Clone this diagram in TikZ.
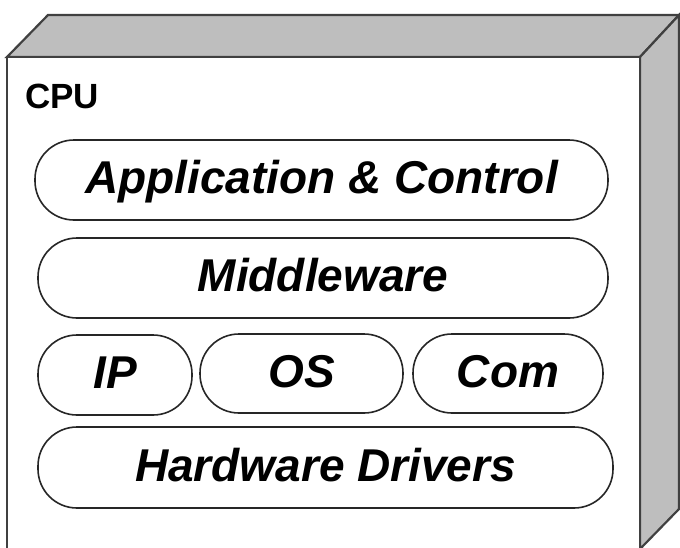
\documentclass[tikz,border=0pt]{standalone}
\usepackage{fontspec}
\setmainfont{Liberation Sans}
\definecolor{edge}{HTML}{404040}
\definecolor{face}{HTML}{BEBEBE}
\begin{document}
\begin{tikzpicture}[x=1pt,y=-1pt,
  layer/.style={draw=black!85, line width=1.6pt, rounded corners=39pt, inner sep=0pt,
    font=\fontsize{46}{50}\selectfont\bfseries\itshape,
    text height=33pt, text depth=6pt},
  boxline/.style={draw=edge, line width=2.2pt, line join=miter}]
\useasboundingbox (0,0) rectangle (680,547);
\clip (0,0) rectangle (680,547);
% top face
\filldraw[boxline, fill=face] (7,57) -- (48,15) -- (679,15) -- (640,57) -- cycle;
% right face
\filldraw[boxline, fill=face] (640,57) -- (679,15) -- (679,509) -- (640,549) -- cycle;
% front face
\fill[white] (7,57) rectangle (640,549);
\draw[boxline] (7,549) -- (7,57) -- (640,57) -- (640,549);
\node[anchor=base west, font=\fontsize{35}{40}\selectfont\bfseries, inner sep=0pt] (cpu) at (25,108) {CPU};
\node[layer, minimum width=573pt, minimum height=80pt] (app) at (321.5,180) {Application \& Control};
\node[layer, minimum width=570pt, minimum height=80pt] (mid) at (323,278) {Middleware};
\node[layer, minimum width=154pt, minimum height=80pt] (ip) at (115,375) {IP};
\node[layer, minimum width=203pt, minimum height=79pt] (os) at (301.5,373.5) {OS};
\node[layer, minimum width=190pt, minimum height=79pt] (com) at (508,373.5) {Com};
\node[layer, minimum width=575pt, minimum height=81pt] (hw) at (325.5,467.5) {Hardware Drivers};
\end{tikzpicture}
\end{document}
